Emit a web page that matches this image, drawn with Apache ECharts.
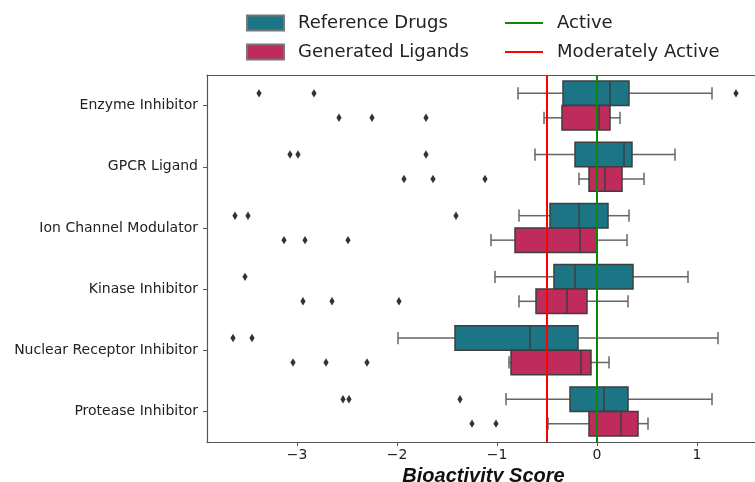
<!DOCTYPE html>
<html>
<head>
<meta charset="utf-8">
<script src="https://cdn.jsdelivr.net/npm/echarts@6/dist/echarts.min.js"></script>
<style>
  html, body { margin: 0; padding: 0; background: #fff; }
  #chart { width: 755px; height: 482px; }
</style>
</head>
<body>
<div id="chart"></div>
<script>
// Ligand classes, top to bottom
const categories = [
  'Enzyme Inhibitor',
  'GPCR Ligand',
  'Ion Channel Modulator',
  'Kinase Inhibitor',
  'Nuclear Receptor Inhibitor',
  'Protease Inhibitor'
];

// Box statistics per class: [whisker low, Q1, median, Q3, whisker high]
const referenceStats = [
  [-0.79, -0.34, 0.13, 0.32, 1.15],
  [-0.62, -0.22, 0.27, 0.35, 0.78],
  [-0.78, -0.47, -0.18, 0.11, 0.32],
  [-1.02, -0.43, -0.22, 0.36, 0.91],
  [-1.99, -1.42, -0.67, -0.19, 1.21],
  [-0.91, -0.27, 0.07, 0.31, 1.15]
];
const generatedStats = [
  [-0.53, -0.35, 0.02, 0.13, 0.23],
  [-0.18, -0.08, 0.08, 0.25, 0.47],
  [-1.06, -0.82, -0.17, 0.0, 0.30],
  [-0.78, -0.61, -0.30, -0.10, 0.31],
  [-0.88, -0.86, -0.16, -0.06, 0.12],
  [-0.49, -0.08, 0.24, 0.41, 0.51]
];

// Outlier scores per class
const referenceOutliers = [
  [-3.38, -2.83, 1.39],
  [-3.07, -2.99, -1.71],
  [-3.62, -3.49, -1.41],
  [-3.52],
  [-3.64, -3.45],
  [-2.54, -2.48, -1.37]
];
const generatedOutliers = [
  [-2.58, -2.25, -1.71],
  [-1.93, -1.64, -1.12],
  [-3.13, -2.92, -2.49],
  [-2.94, -2.65, -1.98],
  [-3.04, -2.71, -2.30],
  [-1.25, -1.01]
];

// Activity thresholds
const activeThreshold = 0;
const moderateThreshold = -0.5;

// x-axis tick labels
const xTicks = [-3, -2, -1, 0, 1];

const refColor = '#1b7584';
const genColor = '#be2b5c';
const edgeColor = '#3e3e3e';
const whiskerColor = '#666666';
const frameColor = '#555555';

// side: -1 draws the box above the category centre, +1 below it
function boxRenderer(fill, side) {
  return function (params, api) {
    const i = api.value(0);
    const band = api.size([0, 1])[1];
    const yc = api.coord([0, i])[1];
    const h = band * 0.4;
    const top = side < 0 ? yc - h : yc;
    const mid = top + h / 2;
    const x = k => api.coord([api.value(k), i])[0];
    const xLow = x(1), xQ1 = x(2), xMed = x(3), xQ3 = x(4), xHigh = x(5);
    const cap = h * 0.25;
    const wStyle = { stroke: whiskerColor, lineWidth: 1.5, fill: null };
    return {
      type: 'group',
      children: [
        { type: 'line', shape: { x1: xLow, y1: mid, x2: xQ1, y2: mid }, style: wStyle },
        { type: 'line', shape: { x1: xQ3, y1: mid, x2: xHigh, y2: mid }, style: wStyle },
        { type: 'line', shape: { x1: xLow, y1: mid - cap, x2: xLow, y2: mid + cap }, style: wStyle },
        { type: 'line', shape: { x1: xHigh, y1: mid - cap, x2: xHigh, y2: mid + cap }, style: wStyle },
        {
          type: 'rect',
          shape: { x: xQ1, y: top, width: xQ3 - xQ1, height: h },
          style: { fill: fill, stroke: edgeColor, lineWidth: 1.5 }
        },
        {
          type: 'line',
          shape: { x1: xMed, y1: top, x2: xMed, y2: top + h },
          style: { stroke: edgeColor, lineWidth: 1.5 }
        }
      ]
    };
  };
}

function outlierRenderer(side) {
  return function (params, api) {
    const i = api.value(0);
    const band = api.size([0, 1])[1];
    const p = api.coord([api.value(1), i]);
    const cy = p[1] + side * band * 0.2;
    const w = 2.6, hh = 4.2;
    return {
      type: 'polygon',
      shape: { points: [[p[0], cy - hh], [p[0] + w, cy], [p[0], cy + hh], [p[0] - w, cy]] },
      style: { fill: '#333333' }
    };
  };
}

const statsData = stats => stats.map((s, i) => [i].concat(s));
const outlierData = outs => {
  const rows = [];
  outs.forEach((list, i) => list.forEach(v => rows.push([i, v])));
  return rows;
};

const chart = echarts.init(document.getElementById('chart'), null, { renderer: 'canvas' });

const legendText = { fontFamily: 'DejaVu Sans', fontSize: 18, color: '#222', padding: [0, 0, 0, 9] };
const xMin = -3.9, xMax = 1.63;

chart.setOption({
  animation: false,
  backgroundColor: '#ffffff',
  legend: [
    {
      data: ['Reference Drugs', 'Generated Ligands'],
      orient: 'vertical',
      left: 246,
      top: 14,
      padding: 0,
      itemWidth: 37,
      itemHeight: 15,
      itemGap: 11,
      icon: 'rect',
      selectedMode: false,
      textStyle: legendText
    },
    {
      data: ['Active', 'Moderately Active'],
      orient: 'vertical',
      left: 505,
      top: 14,
      padding: 0,
      itemWidth: 38,
      itemHeight: 2,
      itemGap: 11,
      icon: 'rect',
      selectedMode: false,
      textStyle: legendText
    }
  ],
  grid: {
    left: 207,
    top: 75,
    width: 553,
    height: 367,
    show: false,
    containLabel: false,
    outerBoundsMode: 'none'
  },
  xAxis: [
    {
      type: 'value',
      position: 'bottom',
      min: xMin,
      max: xMax,
      name: 'Bioactivity Score',
      nameLocation: 'middle',
      nameGap: 20,
      nameTextStyle: {
        fontFamily: 'Liberation Sans',
        fontSize: 20,
        fontWeight: 'bold',
        fontStyle: 'italic',
        color: '#111'
      },
      axisLine: { show: true, onZero: false, lineStyle: { color: frameColor, width: 1.2 } },
      splitLine: { show: false },
      axisTick: {
        show: true,
        length: 4,
        lineStyle: { color: frameColor, width: 1 },
        customValues: xTicks
      },
      axisLabel: {
        fontFamily: 'DejaVu Sans',
        fontSize: 14,
        color: '#222',
        margin: 6,
        customValues: xTicks,
        formatter: v => String(v).replace('-', '\u2212')
      }
    },
    {
      // top frame line
      type: 'value',
      position: 'top',
      min: xMin,
      max: xMax,
      axisLine: { show: true, onZero: false, lineStyle: { color: frameColor, width: 1.2 } },
      axisTick: { show: false },
      axisLabel: { show: false },
      splitLine: { show: false }
    }
  ],
  yAxis: {
    type: 'category',
    data: categories,
    inverse: true,
    axisLine: { show: true, onZero: false, lineStyle: { color: frameColor, width: 1.2 } },
    splitLine: { show: false },
    axisTick: { show: true, length: 4, alignWithLabel: true, lineStyle: { color: frameColor, width: 1 } },
    axisLabel: { fontFamily: 'DejaVu Sans', fontSize: 14, color: '#222', margin: 9 }
  },
  series: [
    {
      name: 'Reference Drugs',
      type: 'custom',
      renderItem: boxRenderer(refColor, -1),
      itemStyle: { color: refColor, borderColor: '#777', borderWidth: 1 },
      encode: { y: 0, x: [1, 2, 3, 4, 5] },
      data: statsData(referenceStats),
      z: 2
    },
    {
      name: 'Generated Ligands',
      type: 'custom',
      renderItem: boxRenderer(genColor, 1),
      itemStyle: { color: genColor, borderColor: '#777', borderWidth: 1 },
      encode: { y: 0, x: [1, 2, 3, 4, 5] },
      data: statsData(generatedStats),
      z: 2
    },
    {
      name: 'Reference Outliers',
      type: 'custom',
      renderItem: outlierRenderer(-1),
      encode: { y: 0, x: 1 },
      data: outlierData(referenceOutliers),
      z: 3
    },
    {
      name: 'Generated Outliers',
      type: 'custom',
      renderItem: outlierRenderer(1),
      encode: { y: 0, x: 1 },
      data: outlierData(generatedOutliers),
      z: 3
    },
    {
      name: 'Active',
      type: 'line',
      color: '#0b870b',
      data: [],
      z: 5,
      markLine: {
        silent: true,
        symbol: 'none',
        label: { show: false },
        lineStyle: { color: '#0b870b', width: 2, type: 'solid' },
        data: [{ xAxis: activeThreshold }]
      }
    },
    {
      name: 'Moderately Active',
      type: 'line',
      color: '#ff0000',
      data: [],
      z: 5,
      markLine: {
        silent: true,
        symbol: 'none',
        label: { show: false },
        lineStyle: { color: '#ff0000', width: 2, type: 'solid' },
        data: [{ xAxis: moderateThreshold }]
      }
    }
  ]
});
</script>
</body>
</html>
